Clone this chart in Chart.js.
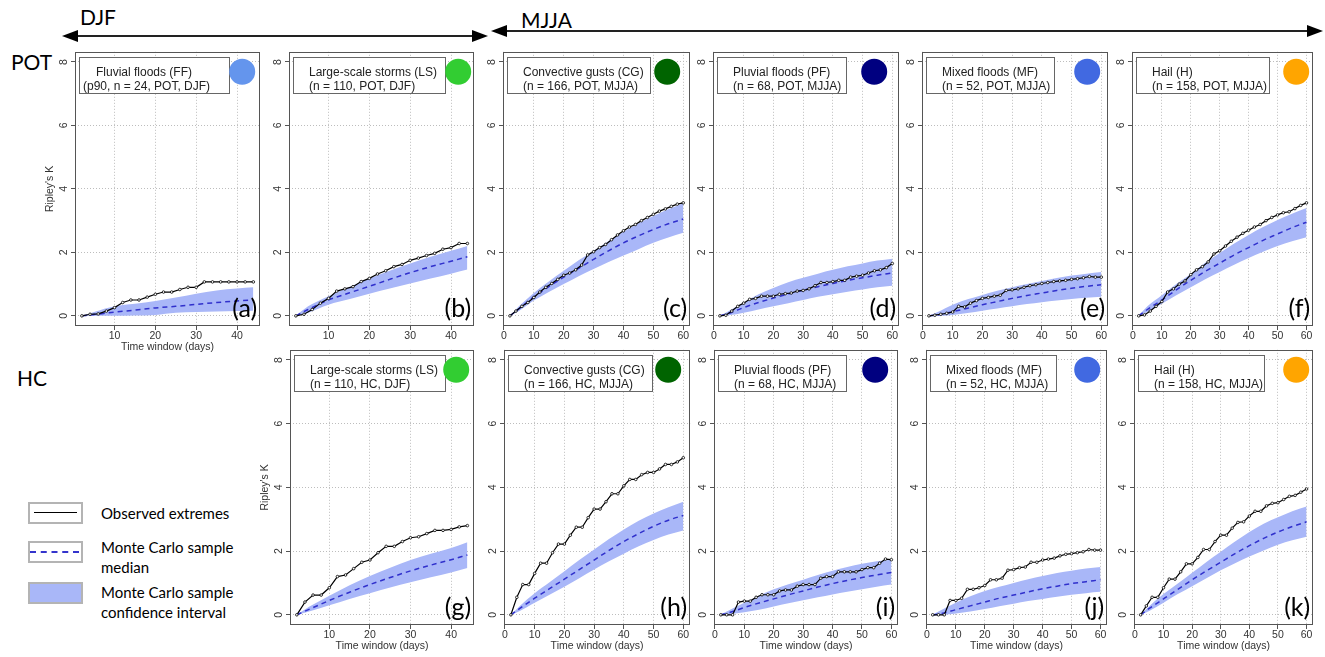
<!DOCTYPE html>
<html>
<head>
<meta charset="utf-8">
<script src="https://cdn.jsdelivr.net/npm/chart.js@4.4.1/dist/chart.umd.min.js"></script>
<style>
  html, body { margin: 0; padding: 0; background: #fff; }
  #stage { position: relative; width: 1325px; height: 657px; overflow: hidden; font-family: Lato, 'Open Sans', sans-serif; color: #000; }
  #stage canvas { position: absolute; }
  .big { position: absolute; font-size: 21px; line-height: 1; }
  .key { position: absolute; left: 28px; width: 55px; height: 22px; box-sizing: border-box; border: 2px solid #b4b4b4; background: #fff; }
  .keytxt { position: absolute; left: 101px; font-size: 15px; line-height: 20px; }
</style>
</head>
<body>
<div id="stage">
  <svg width="1325" height="657" style="position:absolute;left:0;top:0">
    <line x1="72" y1="36" x2="478" y2="36" stroke="#222" stroke-width="2"/>
    <polygon points="62,36 78,30 78,42" fill="#000"/>
    <polygon points="488,36 472,30 472,42" fill="#000"/>
    <line x1="500" y1="31" x2="1314" y2="31" stroke="#222" stroke-width="2"/>
    <polygon points="491,31 507,25 507,37" fill="#000"/>
    <polygon points="1323,31 1307,25 1307,37" fill="#000"/>
  </svg>
  <div class="big" style="left:80px;top:6px">DJF</div>
  <div class="big" style="left:521px;top:9px">MJJA</div>
  <div class="big" style="left:11px;top:51px">POT</div>
  <div class="big" style="left:17px;top:367px">HC</div>

  <div class="key" style="top:502px"><div style="position:absolute;left:4px;right:4px;top:8px;border-top:1.5px solid #000"></div></div>
  <div class="key" style="top:541px"><div style="position:absolute;left:0;right:2px;top:8px;border-top:2px dashed #3434cc"></div></div>
  <div class="key" style="top:582px;background:#a9b7f8"></div>
  <div class="keytxt" style="top:503px">Observed extremes</div>
  <div class="keytxt" style="top:537px">Monte Carlo sample<br>median</div>
  <div class="keytxt" style="top:582px">Monte Carlo sample<br>confidence interval</div>
</div>

<script>
// time windows (days)
const daysDJF = [2,4,6,8,10,12,14,16,18,20,22,24,26,28,30,32,34,36,38,40,42,44];
const daysMJJA = [2,4,6,8,10,12,14,16,18,20,22,24,26,28,30,32,34,36,38,40,42,44,46,48,50,52,54,56,58,60];
const bandDaysDJF = [2,5,10,15,20,25,30,35,40,44];
const bandDaysMJJA = [2,5,10,15,20,25,30,35,40,45,50,55,60];

const yTicks = [0,2,4,6,8];
const xTicksDJF = [10,20,30,40];
const xTicksMJJA = [0,10,20,30,40,50,60];

// (a) fluvial floods, POT, DJF
const obsA = [0,0.05,0.06,0.15,0.26,0.42,0.5,0.5,0.59,0.68,0.75,0.75,0.83,0.9,0.9,1.07,1.07,1.07,1.07,1.07,1.07,1.07];
const medA = [0,0.04,0.12,0.18,0.25,0.3,0.36,0.42,0.47,0.5];
const loA  = [0,0,0,0.01,0.03,0.1,0.12,0.14,0.15,0.16];
const hiA  = [0,0.12,0.3,0.38,0.47,0.58,0.7,0.8,0.86,0.9];

// (b) large-scale storms, POT, DJF
const obsB = [0,0.05,0.2,0.4,0.55,0.78,0.85,0.92,1.08,1.18,1.32,1.42,1.55,1.62,1.75,1.82,1.9,1.97,2.1,2.15,2.28,2.28];
const medB = [0,0.2,0.5,0.72,0.93,1.15,1.36,1.55,1.72,1.86];
const loB  = [0,0.1,0.35,0.52,0.7,0.86,1.02,1.18,1.33,1.46];
const hiB  = [0,0.3,0.62,0.9,1.18,1.42,1.65,1.86,2.05,2.2];

// (c) convective gusts, POT, MJJA
const obsC = [0,0.15,0.3,0.42,0.58,0.75,0.9,1.02,1.15,1.28,1.35,1.45,1.6,1.92,2.02,2.15,2.25,2.4,2.55,2.68,2.8,2.88,3.0,3.1,3.2,3.3,3.37,3.45,3.52,3.56];
const medC = [0,0.22,0.6,0.92,1.22,1.5,1.78,2.05,2.3,2.52,2.72,2.9,3.05];
const loC  = [0,0.15,0.48,0.75,1.0,1.25,1.48,1.7,1.9,2.1,2.3,2.47,2.62];
const hiC  = [0,0.3,0.72,1.08,1.42,1.75,2.05,2.36,2.65,2.92,3.15,3.36,3.55];

// (d) pluvial floods, POT, MJJA
const obsD = [0,0.02,0.15,0.3,0.4,0.52,0.55,0.62,0.62,0.62,0.68,0.7,0.72,0.78,0.8,0.85,0.95,1.05,1.05,1.08,1.12,1.12,1.22,1.25,1.28,1.35,1.42,1.45,1.52,1.65];
const medD = [0,0.08,0.26,0.42,0.56,0.69,0.81,0.92,1.02,1.12,1.2,1.28,1.35];
const loD  = [0,0.02,0.1,0.2,0.3,0.4,0.5,0.6,0.68,0.76,0.83,0.9,0.95];
const hiD  = [0,0.15,0.42,0.68,0.88,1.06,1.2,1.33,1.45,1.56,1.65,1.74,1.8];

// (e) mixed floods, POT, MJJA
const obsE = [0,0.02,0.05,0.08,0.12,0.3,0.28,0.4,0.48,0.55,0.58,0.62,0.65,0.8,0.82,0.85,0.9,0.95,0.98,1.02,1.05,1.08,1.1,1.12,1.15,1.17,1.2,1.24,1.22,1.22];
const medE = [0,0.03,0.13,0.24,0.35,0.45,0.55,0.64,0.72,0.8,0.87,0.93,0.98];
const loE  = [0,0,0.03,0.09,0.16,0.23,0.3,0.37,0.43,0.48,0.53,0.57,0.6];
const hiE  = [0,0.12,0.35,0.52,0.66,0.79,0.9,1.0,1.1,1.19,1.27,1.33,1.38];

// (f) hail, POT, MJJA
const obsF = [0,0.03,0.15,0.3,0.45,0.75,0.85,1.0,1.1,1.3,1.45,1.55,1.7,1.95,2.05,2.2,2.35,2.48,2.6,2.7,2.8,2.88,3.0,3.1,3.18,3.25,3.28,3.38,3.48,3.56];
const medF = [0,0.2,0.5,0.82,1.12,1.4,1.66,1.92,2.15,2.38,2.58,2.78,2.95];
const loF  = [0,0.12,0.38,0.65,0.9,1.15,1.38,1.61,1.82,2.02,2.2,2.35,2.48];
const hiF  = [0,0.3,0.65,1.0,1.32,1.67,1.98,2.28,2.55,2.8,3.02,3.22,3.4];

// (g) large-scale storms, HC, DJF
const obsG = [0,0.4,0.62,0.62,0.85,1.2,1.25,1.45,1.65,1.72,1.95,2.15,2.15,2.3,2.42,2.45,2.55,2.65,2.65,2.68,2.76,2.8];
const medG = [0,0.17,0.45,0.71,0.95,1.17,1.38,1.56,1.73,1.88];
const loG  = [0,0.1,0.3,0.5,0.68,0.86,1.02,1.18,1.33,1.47];
const hiG  = [0,0.25,0.6,0.93,1.22,1.48,1.72,1.92,2.1,2.28];

// (h) convective gusts, HC, MJJA
const obsH = [0,0.55,0.95,0.95,1.3,1.62,1.62,1.95,2.22,2.22,2.5,2.75,2.75,3.05,3.32,3.32,3.55,3.8,3.8,4.05,4.25,4.25,4.4,4.47,4.47,4.58,4.72,4.72,4.8,4.93];
const medH = [0,0.2,0.52,0.82,1.12,1.42,1.72,2.02,2.3,2.55,2.78,2.97,3.12];
const loH  = [0,0.12,0.38,0.63,0.88,1.15,1.42,1.68,1.92,2.15,2.35,2.52,2.65];
const hiH  = [0,0.28,0.68,1.02,1.37,1.72,2.05,2.38,2.68,2.95,3.18,3.38,3.55];

// (i) pluvial floods, HC, MJJA
const obsI = [0,0,0,0.4,0.43,0.43,0.55,0.63,0.63,0.63,0.75,0.78,0.78,0.9,0.95,0.95,0.95,1.15,1.2,1.2,1.35,1.35,1.35,1.35,1.42,1.48,1.48,1.62,1.75,1.73];
const medI = [0,0.07,0.23,0.37,0.5,0.63,0.75,0.87,0.98,1.08,1.17,1.25,1.33];
const loI  = [0,0.02,0.08,0.16,0.26,0.36,0.46,0.55,0.64,0.72,0.8,0.88,0.95];
const hiI  = [0,0.15,0.38,0.6,0.8,0.96,1.1,1.25,1.38,1.5,1.6,1.68,1.73];

// (j) mixed floods, HC, MJJA
const obsJ = [0,0,0,0.45,0.45,0.52,0.8,0.8,0.85,0.92,1.1,1.1,1.15,1.4,1.42,1.48,1.5,1.65,1.65,1.72,1.75,1.78,1.85,1.9,1.92,1.95,1.98,2.05,2.03,2.03];
const medJ = [0,0.04,0.16,0.28,0.4,0.52,0.62,0.72,0.82,0.9,0.98,1.04,1.1];
const loJ  = [0,0,0.04,0.1,0.18,0.27,0.35,0.43,0.5,0.57,0.63,0.68,0.72];
const hiJ  = [0,0.15,0.38,0.58,0.75,0.88,1.0,1.12,1.22,1.31,1.38,1.45,1.5];

// (k) hail, HC, MJJA
const obsK = [0,0.28,0.55,0.55,0.85,1.12,1.12,1.35,1.6,1.6,1.8,2.05,2.05,2.3,2.5,2.5,2.72,2.9,2.92,3.1,3.25,3.25,3.42,3.5,3.52,3.62,3.72,3.75,3.85,3.95];
const medK = [0,0.2,0.5,0.8,1.1,1.38,1.65,1.92,2.17,2.4,2.6,2.77,2.92];
const loK  = [0,0.12,0.38,0.65,0.9,1.15,1.4,1.62,1.83,2.02,2.2,2.34,2.45];
const hiK  = [0,0.27,0.65,0.98,1.32,1.66,1.98,2.3,2.6,2.86,3.06,3.25,3.4];

// styling
const BAND = '#a9b7f8';
const MED = '#3030cc';
const GRID = '#bdbdbd';
const AXIS_FONT = { family: "'Liberation Sans', Arial, sans-serif", size: 10.5 };
const PAD_L = 36, PAD_T = 2, PAD_R = 2, PAD_B = 28;
const TOP_ROW = [48.7, 325.8], BOT_ROW = [346.7, 624.8];

Chart.defaults.font.family = "'Liberation Sans', Arial, sans-serif";

const panels = [
  { tag: '(a)', title: ['Fluvial floods (FF)', '(p90, n = 24, POT, DJF)'], dot: '#6495ED', x: [75, 262.5], row: TOP_ROW, djf: true, obs: obsA, med: medA, lo: loA, hi: hiA, yTitle: true, xTitle: true, boxW: 150, indent: [17, 4], dotDx: 18 },
  { tag: '(b)', title: ['Large-scale storms (LS)', '(n = 110, POT, DJF)'], dot: '#32CD32', x: [289, 477], row: TOP_ROW, djf: true, obs: obsB, med: medB, lo: loB, hi: hiB, boxW: 152, dotDx: 16 },
  { tag: '(c)', title: ['Convective gusts (CG)', '(n = 166, POT, MJJA)'], dot: '#006400', x: [503, 693], row: TOP_ROW, obs: obsC, med: medC, lo: loC, hi: hiC, boxW: 143, dotDx: 23 },
  { tag: '(d)', title: ['Pluvial floods (PF)', '(n = 68, POT, MJJA)'], dot: '#000080', x: [713, 902], row: TOP_ROW, obs: obsD, med: medD, lo: loD, hi: hiD, boxW: 129, dotDx: 25 },
  { tag: '(e)', title: ['Mixed floods (MF)', '(n = 52, POT, MJJA)'], dot: '#4169E1', x: [922, 1111], row: TOP_ROW, obs: obsE, med: medE, lo: loE, hi: hiE, boxW: 128, dotDx: 21 },
  { tag: '(f)', title: ['Hail (H)', '(n = 158, POT, MJJA)'], dot: '#FFA500', x: [1132, 1316], row: TOP_ROW, obs: obsF, med: medF, lo: loF, hi: hiF, boxW: 133, dotDx: 17 },
  { tag: '(g)', title: ['Large-scale storms (LS)', '(n = 110, HC, DJF)'], dot: '#32CD32', x: [290, 477], row: BOT_ROW, djf: true, obs: obsG, med: medG, lo: loG, hi: hiG, yTitle: true, xTitle: true, boxW: 151, dotDx: 18 },
  { tag: '(h)', title: ['Convective gusts (CG)', '(n = 166, HC, MJJA)'], dot: '#006400', x: [504, 693], row: BOT_ROW, obs: obsH, med: medH, lo: loH, hi: hiH, xTitle: true, boxW: 144, dotDx: 22 },
  { tag: '(i)', title: ['Pluvial floods (PF)', '(n = 68, HC, MJJA)'], dot: '#000080', x: [714, 901], row: BOT_ROW, obs: obsI, med: medI, lo: loI, hi: hiI, xTitle: true, boxW: 128, dotDx: 23 },
  { tag: '(j)', title: ['Mixed floods (MF)', '(n = 52, HC, MJJA)'], dot: '#4169E1', x: [926, 1110], row: BOT_ROW, obs: obsJ, med: medJ, lo: loJ, hi: hiJ, xTitle: true, boxW: 126, dotDx: 20 },
  { tag: '(k)', title: ['Hail (H)', '(n = 158, HC, MJJA)'], dot: '#FFA500', x: [1134, 1316], row: BOT_ROW, obs: obsK, med: medK, lo: loK, hi: hiK, xTitle: true, boxW: 126, dotDx: 17 }
];

function pairs(xs, ys) {
  return ys.map((y, i) => ({ x: xs[i], y: y }));
}

// frame, legend box, coloured dot and panel letter
const deco = {
  id: 'deco',
  afterDraw(chart, args, o) {
    const ctx = chart.ctx;
    const a = chart.chartArea;
    ctx.save();
    ctx.strokeStyle = '#555';
    ctx.lineWidth = 1;
    ctx.strokeRect(Math.round(a.left) + 0.5, Math.round(a.top) + 0.5, Math.round(a.right - a.left) - 1, Math.round(a.bottom - a.top) - 1);

    const bx = Math.round(a.left) + 4, by = Math.round(a.top) + 5;
    ctx.fillStyle = '#fff';
    ctx.fillRect(bx, by, o.boxW, 36);
    ctx.strokeStyle = '#666';
    ctx.strokeRect(bx + 0.5, by + 0.5, o.boxW, 36);
    ctx.fillStyle = '#222';
    ctx.font = "12px 'Liberation Sans', Arial, sans-serif";
    ctx.textAlign = 'left';
    ctx.textBaseline = 'middle';
    ctx.fillText(o.title[0], bx + o.indent[0], by + 16);
    ctx.fillText(o.title[1], bx + o.indent[1], by + 30);

    ctx.fillStyle = o.dot;
    ctx.beginPath();
    ctx.arc(a.right - o.dotDx, a.top + 20, 13, 0, Math.PI * 2);
    ctx.fill();

    ctx.fillStyle = '#000';
    ctx.font = '25px Lato, sans-serif';
    ctx.textAlign = 'right';
    ctx.textBaseline = 'alphabetic';
    ctx.fillText(o.tag, a.right - 3, a.bottom - 9);
    ctx.restore();
  }
};

const stage = document.getElementById('stage');

panels.forEach(p => {
  const left = p.x[0], right = p.x[1], top = p.row[0], bottom = p.row[1];
  const canvas = document.createElement('canvas');
  canvas.width = Math.round(right - left + PAD_L + PAD_R);
  canvas.height = Math.round(bottom - top + PAD_T + PAD_B);
  canvas.style.left = Math.round(left - PAD_L) + 'px';
  canvas.style.top = Math.round(top - PAD_T) + 'px';
  stage.appendChild(canvas);

  const days = p.djf ? daysDJF : daysMJJA;
  const bandDays = p.djf ? bandDaysDJF : bandDaysMJJA;
  const xTicks = p.djf ? xTicksDJF : xTicksMJJA;

  new Chart(canvas, {
    type: 'line',
    data: {
      datasets: [
        { data: pairs(days, p.obs), borderColor: '#000', borderWidth: 1.2, pointRadius: 1.3, pointBackgroundColor: '#fff', pointBorderColor: '#000', pointBorderWidth: 0.8, fill: false, tension: 0 },
        { data: pairs(bandDays, p.med), borderColor: MED, borderWidth: 1.5, borderDash: [5, 4], pointRadius: 0, fill: false, cubicInterpolationMode: 'monotone' },
        { data: pairs(bandDays, p.lo), borderWidth: 0, borderColor: 'rgba(0,0,0,0)', pointRadius: 0, fill: false, cubicInterpolationMode: 'monotone' },
        { data: pairs(bandDays, p.hi), borderWidth: 0, borderColor: 'rgba(0,0,0,0)', pointRadius: 0, fill: '-1', backgroundColor: BAND, cubicInterpolationMode: 'monotone' }
      ]
    },
    options: {
      responsive: false,
      animation: false,
      events: [],
      layout: { padding: { top: PAD_T, right: PAD_R, left: 0, bottom: 0 } },
      plugins: {
        legend: { display: false },
        tooltip: { enabled: false },
        deco: { title: p.title, dot: p.dot, tag: p.tag, boxW: p.boxW, indent: p.indent || [16, 16], dotDx: p.dotDx }
      },
      scales: {
        x: {
          type: 'linear',
          min: p.djf ? 0.32 : -0.32,
          max: p.djf ? 45.68 : 62.32,
          afterBuildTicks: s => { s.ticks = xTicks.map(v => ({ value: v })); },
          afterFit: s => { s.height = PAD_B; s.paddingLeft = 0; s.paddingRight = 0; },
          grid: { color: GRID, lineWidth: 1, tickLength: 4, tickColor: '#555', tickBorderDash: [], tickWidth: 1 },
          border: { display: false, dash: [1, 2] },
          ticks: { font: AXIS_FONT, color: '#333', padding: 0, maxRotation: 0, autoSkip: false },
          title: { display: !!p.xTitle, text: 'Time window (days)', font: AXIS_FONT, color: '#333', padding: { top: 0, bottom: 0.4 } }
        },
        y: {
          min: -0.32,
          max: 8.32,
          afterBuildTicks: s => { s.ticks = yTicks.map(v => ({ value: v })); },
          afterFit: s => { s.width = PAD_L; s.paddingTop = 0; s.paddingBottom = 0; },
          grid: { color: GRID, lineWidth: 1, tickLength: 4, tickColor: '#555', tickBorderDash: [], tickWidth: 1 },
          border: { display: false, dash: [1, 2] },
          ticks: { font: AXIS_FONT, color: '#333', padding: 4, minRotation: 90, maxRotation: 90, crossAlign: 'center' },
          title: { display: !!p.yTitle, text: "Ripley's K", font: AXIS_FONT, color: '#333', padding: { top: 4.4, bottom: 0 } }
        }
      }
    },
    plugins: [deco]
  });
});
</script>
</body>
</html>
